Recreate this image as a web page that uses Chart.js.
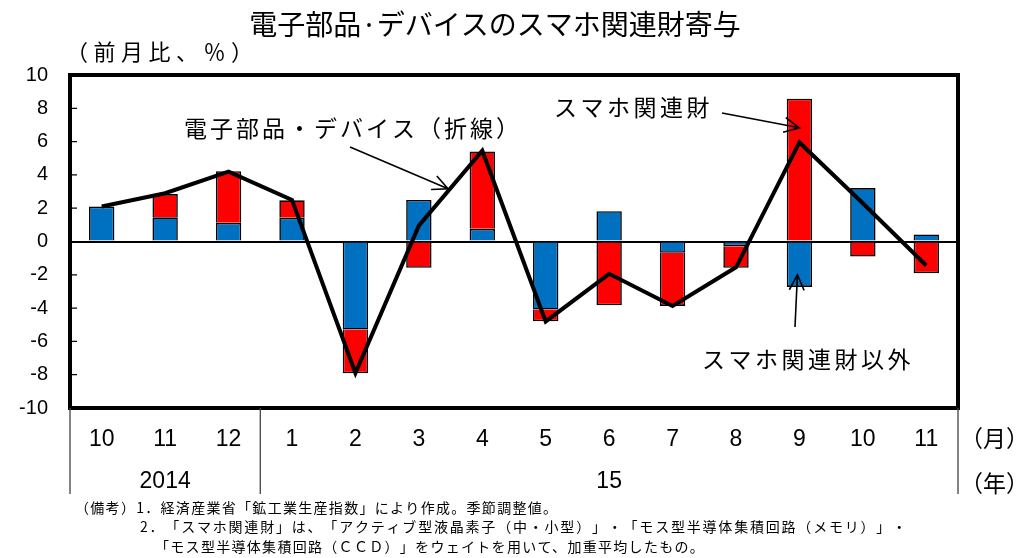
<!DOCTYPE html>
<html lang="ja">
<head>
<meta charset="utf-8">
<script src="https://cdn.jsdelivr.net/npm/chart.js@4"></script>
<style>
  html, body { margin: 0; padding: 0; background: #fff; }
  #wrap { width: 1020px; height: 558px; }
  canvas { text-spacing-trim: space-all; }
</style>
</head>
<body>
<div id="wrap"><canvas id="chart" width="1020" height="558"></canvas></div>
<script>
// 月ラベル（2014年10月〜2015年11月）
const months = ['10', '11', '12', '1', '2', '3', '4', '5', '6', '7', '8', '9', '10', '11'];
const years = [
    { label: '2014', from: 0, to: 2 },
    { label: '15', from: 3, to: 13 }
];
// スマホ関連財以外（青）
const otherGoods = [2.1, 1.45, 1.12, 1.42, -5.29, 2.5, 0.76, -4.09, 1.82, -0.68, -0.28, -2.73, 3.21, 0.42];
// スマホ関連財（赤）
const smartphoneGoods = [0, 1.4, 3.1, 1.05, -2.63, -1.58, 4.65, -0.7, -3.83, -3.19, -1.3, 8.58, -0.9, -1.9];
// 電子部品・デバイス（折線）
const deviceTotal = [2.1, 2.9, 4.2, 2.5, -7.9, 0.95, 5.45, -4.8, -1.94, -3.87, -1.55, 5.95, 2.3, -1.44];
const yTicks = [-10, -8, -6, -4, -2, 0, 2, 4, 6, 8, 10];

const JP = '"Noto Sans CJK JP", sans-serif';
const LAT = '"Liberation Sans", Arial, sans-serif';

const notes = [
    { text: '（備考）1．経済産業省「鉱工業生産指数」により作成。季節調整値。', x: 75, y: 508, sp: 1.3 },
    { text: '2．「スマホ関連財」は、「アクティブ型液晶素子（中・小型）」・「モス型半導体集積回路（メモリ）」・', x: 140, y: 527, sp: 1.8 },
    { text: '「モス型半導体集積回路（ＣＣＤ）」をウェイトを用いて、加重平均したもの。', x: 155, y: 547, sp: 1.3 }
];

function drawText(ctx, text, x, y, font, align, spacing) {
    ctx.save();
    ctx.font = font;
    ctx.fillStyle = '#000';
    ctx.textAlign = align || 'left';
    ctx.textBaseline = 'middle';
    ctx.letterSpacing = (spacing || 0) + 'px';
    ctx.fillText(text, x, y);
    ctx.restore();
}

function drawArrow(ctx, x1, y1, x2, y2) {
    const ang = Math.atan2(y2 - y1, x2 - x1);
    const len = 17, spread = 0.45;
    ctx.save();
    ctx.strokeStyle = '#000';
    ctx.lineWidth = 1.6;
    ctx.beginPath();
    ctx.moveTo(x1, y1);
    ctx.lineTo(x2, y2);
    ctx.moveTo(x2 - len * Math.cos(ang - spread), y2 - len * Math.sin(ang - spread));
    ctx.lineTo(x2, y2);
    ctx.lineTo(x2 - len * Math.cos(ang + spread), y2 - len * Math.sin(ang + spread));
    ctx.stroke();
    ctx.restore();
}

const decor = {
    id: 'decor',
    afterDraw(chart) {
        const { ctx, chartArea: a, scales: { x, y } } = chart;

        // 枠
        ctx.save();
        ctx.strokeStyle = '#000';
        ctx.lineWidth = 4;
        ctx.strokeRect(a.left, a.top, a.right - a.left, a.bottom - a.top);
        // 内向きの目盛
        ctx.lineWidth = 1.2;
        ctx.beginPath();
        yTicks.forEach(v => {
            const py = y.getPixelForValue(v);
            ctx.moveTo(a.left, py);
            ctx.lineTo(a.left + 7, py);
        });
        ctx.stroke();
        // 年の区切り線
        ctx.strokeStyle = '#444';
        ctx.lineWidth = 1.3;
        const sep = [a.left, (x.getPixelForValue(2) + x.getPixelForValue(3)) / 2, a.right];
        ctx.beginPath();
        sep.forEach(px => {
            ctx.moveTo(px, a.bottom);
            ctx.lineTo(px, 494);
        });
        ctx.stroke();
        ctx.restore();

        // 年ラベル
        years.forEach(yr => {
            const cx = (x.getPixelForValue(yr.from) + x.getPixelForValue(yr.to)) / 2;
            drawText(ctx, yr.label, cx, 482, '23px ' + LAT, 'center');
        });
        drawText(ctx, '（月）', 960, 438, '23px ' + JP, 'left', 0);
        drawText(ctx, '（年）', 960, 483, '23px ' + JP, 'left', 0);

        // タイトルと単位
        drawText(ctx, '電子部品·デバイスのスマホ関連財寄与', 495, 24, '28px ' + JP, 'center');
        drawText(ctx, '（前月比、％）', 66, 52, '22px ' + JP, 'left', 5.5);

        // 注記と矢印
        drawText(ctx, '電子部品・デバイス（折線）', 184, 128, '23px ' + JP, 'left', 3);
        drawArrow(ctx, 350, 147, x.getPixelForValue(5.46), y.getPixelForValue(3.17));
        drawText(ctx, 'スマホ関連財', 554, 107, '23px ' + JP, 'left', 3.5);
        drawArrow(ctx, 722, 113, x.getPixelForValue(11), y.getPixelForValue(6.83));
        drawText(ctx, 'スマホ関連財以外', 702, 359, '23px ' + JP, 'left', 3.5);
        drawArrow(ctx, 795, 327, x.getPixelForValue(11) - 2, y.getPixelForValue(-2.0));

        // 備考
        notes.forEach(n => drawText(ctx, n.text, n.x, n.y, '14px ' + JP, 'left', n.sp));
    }
};

new Chart(document.getElementById('chart'), {
    type: 'bar',
    data: {
        labels: months,
        datasets: [
            {
                type: 'line',
                label: '電子部品・デバイス',
                data: deviceTotal,
                borderColor: '#000',
                borderWidth: 4,
                pointRadius: 0,
                tension: 0,
                fill: false,
                stack: 'line',
                order: 0
            },
            {
                label: 'スマホ関連財以外',
                data: otherGoods,
                backgroundColor: '#0070C0',
                borderColor: '#000',
                borderWidth: 1.6,
                stack: 'bars',
                order: 1
            },
            {
                label: 'スマホ関連財',
                data: smartphoneGoods,
                backgroundColor: '#FF0000',
                borderColor: '#000',
                borderWidth: 1.6,
                stack: 'bars',
                order: 2
            }
        ]
    },
    options: {
        responsive: false,
        animation: false,
        events: [],
        layout: { padding: { top: 75, right: 62, left: 0, bottom: 0 } },
        datasets: { bar: { categoryPercentage: 1, barPercentage: 0.4 } },
        plugins: { legend: { display: false }, tooltip: { enabled: false } },
        scales: {
            x: {
                stacked: true,
                grid: { display: false, drawTicks: false },
                border: { display: false },
                ticks: { color: '#000', font: { family: LAT, size: 23 }, padding: 18, maxRotation: 0 },
                afterFit: s => { s.height = 150; }
            },
            y: {
                stacked: true,
                min: -10,
                max: 10,
                grid: {
                    drawTicks: false,
                    lineWidth: 2,
                    color: c => (c.tick && c.tick.value === 0 ? '#000' : 'rgba(0,0,0,0)')
                },
                border: { display: false },
                ticks: { stepSize: 2, color: '#000', font: { family: LAT, size: 20 }, padding: 22 },
                afterFit: s => { s.width = 70; }
            }
        }
    },
    plugins: [decor]
});
</script>
</body>
</html>
